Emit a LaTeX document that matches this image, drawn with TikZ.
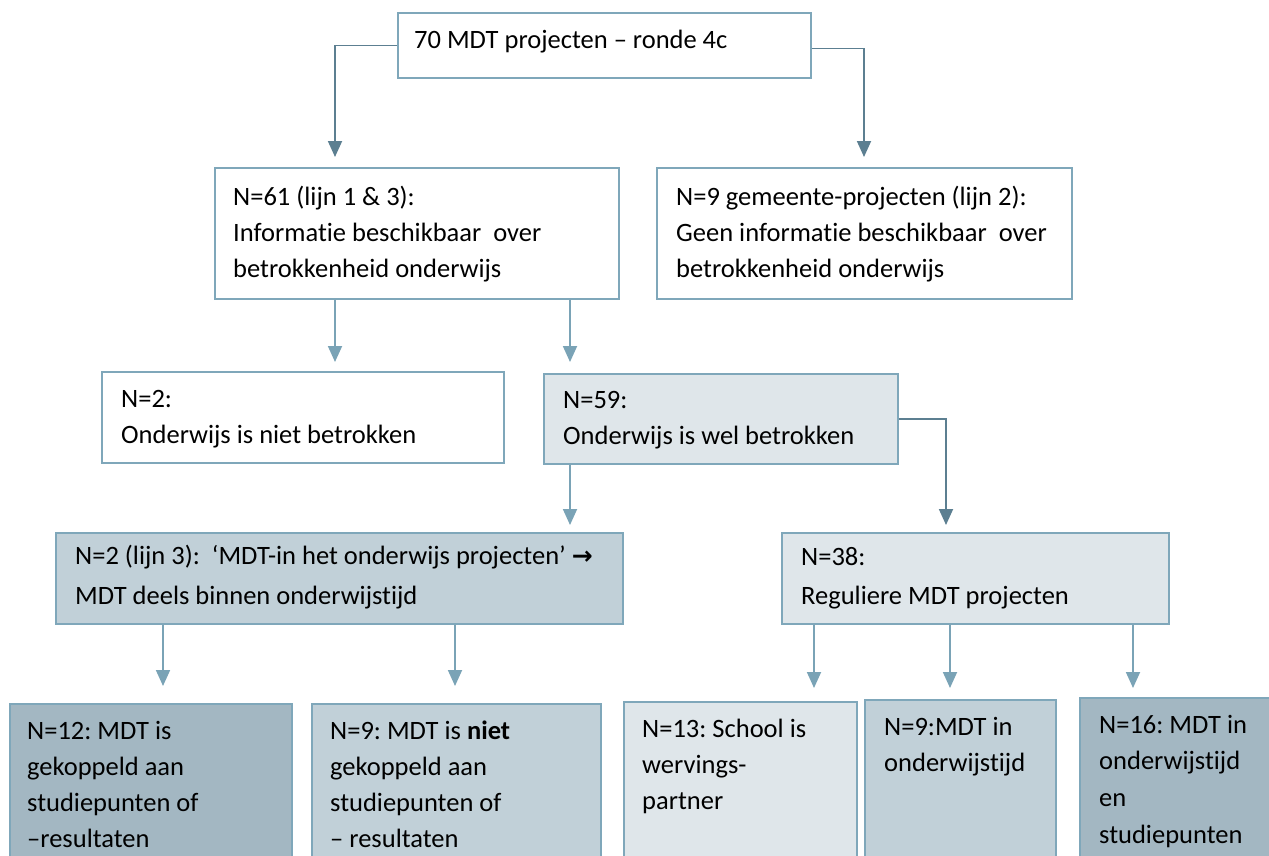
\documentclass[tikz,border=0pt]{standalone}
\usepackage{fontspec}
\setmainfont{Carlito}[Ligatures=NoCommon]
\newfontfamily\dejavu{DejaVu Sans}
\usetikzlibrary{arrows.meta,calc}
\definecolor{bordc}{HTML}{7FA7BA}
\definecolor{arrc}{HTML}{7AA3B6}
\definecolor{arrd}{HTML}{5C7F91}
\definecolor{fl}{HTML}{DFE6EA}
\definecolor{fm}{HTML}{C1D0D8}
\definecolor{fd}{HTML}{A3B7C2}
\newcommand{\ptxt}[1]{\parbox[t]{600pt}{\raggedright\frenchspacing #1}}
\frenchspacing
\begin{document}
\begin{tikzpicture}[x=1pt,y=-1pt,
 boxst/.style={draw=bordc, line width=1.8pt, rectangle, inner sep=0pt, anchor=north west},
 txt/.style={anchor=base west, inner sep=0pt, font=\fontsize{26.5}{36}\selectfont},
 arr/.style={draw=arrc, line width=1.8pt, -{Triangle[width=14pt,length=16pt]}},
 arrdk/.style={arr, draw=arrd}
]
\useasboundingbox (0,0) rectangle (1269,855);
\clip (0,0) rectangle (1269,855);
% boxes
\node[boxst, fill=white, minimum width=413pt, minimum height=65pt] (top) at (397,12) {};
\node[boxst, fill=white, minimum width=404pt, minimum height=131pt] (b61) at (214,167) {};
\node[boxst, fill=white, minimum width=415pt, minimum height=131pt] (b9) at (656,167) {};
\node[boxst, fill=white, minimum width=402pt, minimum height=91pt] (n2) at (101,371) {};
\node[boxst, fill=fl, minimum width=354pt, minimum height=90pt] (n59) at (543,373) {};
\node[boxst, fill=fm, minimum width=567pt, minimum height=91pt] (l3) at (55,532) {};
\node[boxst, fill=fl, minimum width=387pt, minimum height=91pt] (n38) at (781,532) {};
\node[boxst, fill=fd, minimum width=282pt, minimum height=200pt] (c12) at (9,703) {};
\node[boxst, fill=fm, minimum width=289pt, minimum height=200pt] (c9) at (311,703) {};
\node[boxst, fill=fl, minimum width=233pt, minimum height=200pt] (c13) at (623,701) {};
\node[boxst, fill=fm, minimum width=191pt, minimum height=200pt] (c9b) at (864,699) {};
\node[boxst, fill=fd, minimum width=250pt, minimum height=200pt] (c16) at (1079,697) {};
% texts
\node[txt] (ttop) at (414,48) {70 MDT projecten – ronde 4c};
\node[txt] (t61) at (233,205) {\ptxt{N=61 (lijn 1 \& 3):\\Informatie beschikbaar\ \ over\\betrokkenheid onderwijs}};
\node[txt] (t9) at (676,205) {\ptxt{N=9 gemeente-projecten (lijn 2):\\Geen informatie beschikbaar\ \ over\\betrokkenheid onderwijs}};
\node[txt] (tn2) at (121,407) {\ptxt{N=2:\\Onderwijs is niet betrokken}};
\node[txt] (tn59) at (563,408) {\ptxt{N=59:\\Onderwijs is wel betrokken}};
\node[txt] (tl3) at (75,564) {\ptxt{N=2 (lijn 3):\ \ ‘MDT-in het onderwijs projecten’ {\dejavu\bfseries\fontsize{25}{36}\selectfont →}\\[4pt]MDT deels binnen onderwijstijd}};
\node[txt] (tn38) at (801,565) {\ptxt{N=38:\\[3pt]Reguliere MDT projecten}};
\node[txt] (tc12) at (27,739) {\ptxt{N=12: MDT is\\gekoppeld aan\\studiepunten of\\–resultaten}};
\node[txt] (tc9) at (330,739) {\ptxt{N=9: MDT is \textbf{niet}\\gekoppeld aan\\studiepunten of\\– resultaten}};
\node[txt] (tc13) at (642,737) {\ptxt{N=13: School is\\wervings-\\partner}};
\node[txt] (tc9b) at (884,735) {\ptxt{N=9:MDT in\\onderwijstijd}};
\node[txt] (tc16) at (1099,733) {\ptxt{N=16: MDT in\\onderwijstijd\\[1pt]en\\[1pt]studiepunten}};
% arrow end points
\coordinate (a1) at (335,157);
\coordinate (a2) at (864,157);
\coordinate (a3) at (335,362);
\coordinate (a4) at (570,362);
\coordinate (a5) at (570,525);
\coordinate (a6) at (946,525);
\coordinate (a7) at (163,686);
\coordinate (a8) at (455,686);
\coordinate (a9) at (814,688);
\coordinate (a10) at (950,688);
\coordinate (a11) at (1133,688);
% connectors
\draw[arrdk] (top.west) -| (a1);
\draw[arrdk] ([yshift=-3pt]top.east) -| (a2);
\draw[arr] (b61.south -| a3) -- (a3);
\draw[arr] (b61.south -| a4) -- (a4);
\draw[arr] (n59.south -| a5) -- (a5);
\draw[arrdk] (n59.east) -| (a6);
\draw[arr] (l3.south -| a7) -- (a7);
\draw[arr] (l3.south -| a8) -- (a8);
\draw[arr] (n38.south -| a9) -- (a9);
\draw[arr] (n38.south -| a10) -- (a10);
\draw[arr] (n38.south -| a11) -- (a11);
\end{tikzpicture}
\end{document}
